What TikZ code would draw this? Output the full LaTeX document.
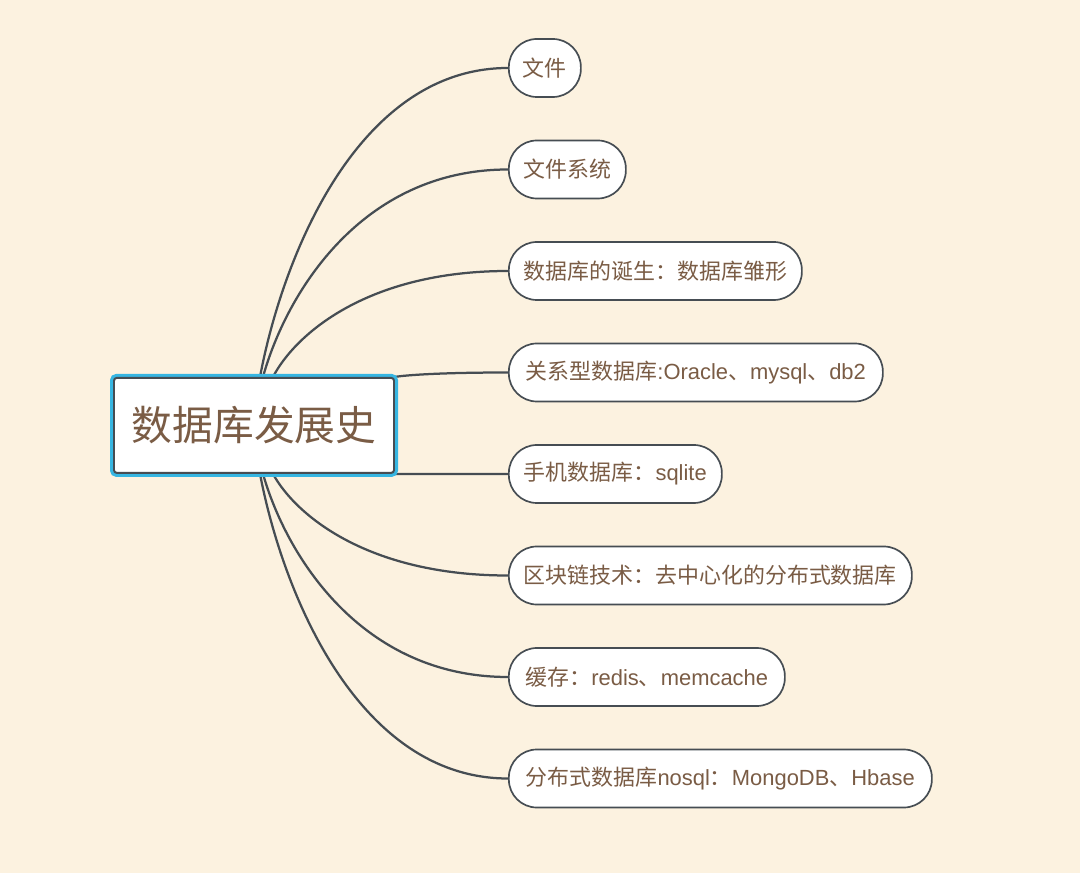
\documentclass[tikz,border=0pt]{standalone}
\usepackage{fontspec}
\setmainfont{Noto Sans CJK SC}
\newfontfamily\latin{Liberation Sans}
\usepackage{xcolor}
\usetikzlibrary{
  positioning,
  calc,
  backgrounds,
}
\definecolor{pagebg}{HTML}{FCF2E0}
\definecolor{inkbrown}{HTML}{7A5C45}
\definecolor{edgegray}{HTML}{464D53}
\definecolor{ring}{HTML}{36B6E2}
\definecolor{card}{HTML}{FFFFFF}
\newcommand{\lat}[1]{{\latin #1}}
\tikzset{
  every node/.append style={text=inkbrown},
  topic/.style={
    draw=edgegray,
    line width=1.4pt,
    fill=card,
    preaction={draw=ring, line width=0.2cm},
    rounded corners=2pt,
    minimum width=7cm,
    minimum height=2.375cm,
    inner sep=0pt,
    font=\fontsize{29}{34}\selectfont,
  },
  branch/.style={
    draw=edgegray,
    line width=1.2pt,
    fill=card,
    rounded corners=0.7cm,
    minimum height=1.45cm,
    minimum width=#1,
    inner xsep=0.35cm,
    inner ysep=0pt,
    anchor=west,
    font=\fontsize{15.6}{18}\selectfont,
  },
  link/.style={draw=edgegray, line width=1.6pt},
}

\begin{document}
\begin{tikzpicture}[x=1cm,y=1cm]
  \useasboundingbox (0,0) rectangle (27,21.825);
  \node[topic] (hist) at (6.35,11.19) {数据库发展史};

  % stages, top to bottom
  \foreach \i/\w/\txt in {
    1/1.8cm/{文件},
    2/2.925cm/{文件系统},
    3/7.325cm/{数据库的诞生：数据库雏形},
    4/9.35cm/{关系型数据库\lat{:Oracle}、\lat{mysql}、\lat{db2}},
    5/5.325cm/{手机数据库：\lat{sqlite}},
    6/10.075cm/{区块链技术：去中心化的分布式数据库},
    7/6.9cm/{缓存：\lat{redis}、\lat{memcache}},
    8/10.575cm/{分布式数据库\lat{nosql}：\lat{MongoDB}、\lat{Hbase}}} {
    \node[branch=\w] (stage\i) at (12.7,22.6625-2.5375*\i) {\txt};
  }

  \begin{scope}[on background layer]
    \fill[pagebg] (0,0) rectangle (27,21.825);
    % curves from the topic
    \foreach \i/\dx/\side in {
      1/0.15/north, 2/0.225/north, 3/0.475/north, 4/0/north east,
      5/0/south east, 6/0.475/south, 7/0.225/south, 8/0.15/south} {
      \coordinate (s\i) at ([xshift=\dx cm]hist.\side);
      \draw[link] let \p1 = ($(stage\i.west)-(s\i)$) in
        (s\i) .. controls +(0.094*\x1,0.4*\y1) and +(-0.6*\x1,0) .. (stage\i.west);
    }
  \end{scope}
\end{tikzpicture}
\end{document}
